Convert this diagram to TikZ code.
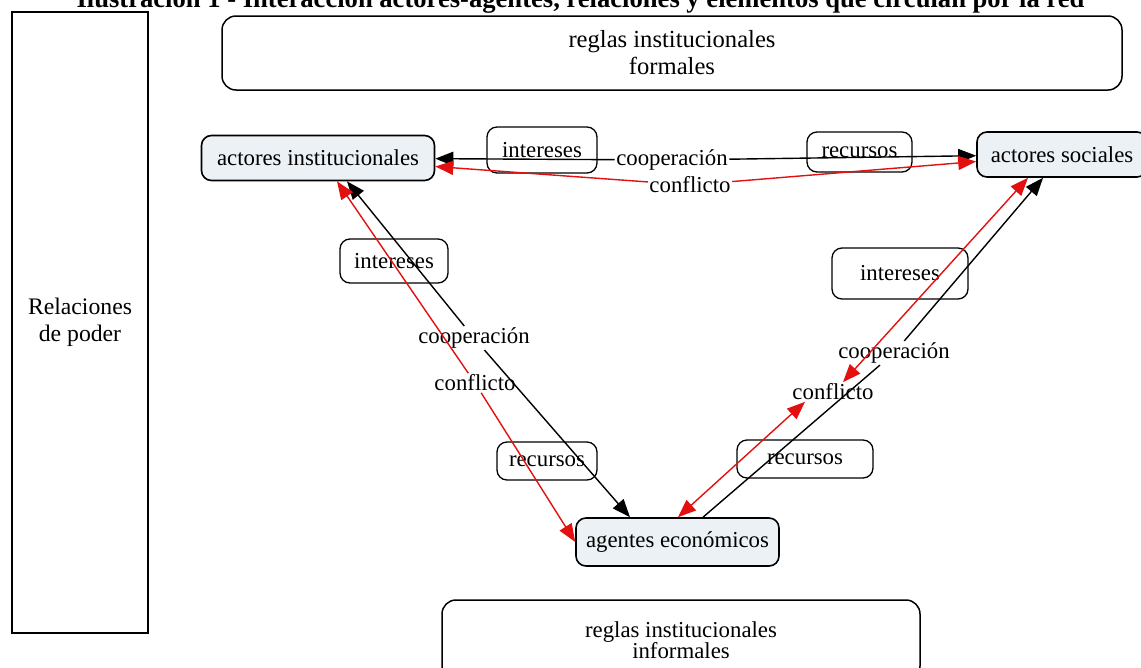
\documentclass[tikz,border=0pt]{standalone}
\usepackage{fontspec}
\setmainfont{Liberation Serif}
\usetikzlibrary{arrows.meta}
\definecolor{conceptfill}{HTML}{EBF1F5}
\definecolor{conflictred}{HTML}{E31010}

\begin{document}
\begin{tikzpicture}[x=1pt,y=-1pt,
  every node/.style={font=\fontsize{22.8}{27}\selectfont},
  frame/.style={draw, line width=1.5pt, inner sep=0pt, align=center, font=\fontsize{23.7}{27}\selectfont},
  rulebox/.style={draw, line width=1.5pt, rounded corners=14pt, inner sep=0pt, align=center},
  concept/.style={draw, line width=1.6pt, rounded corners=10pt, fill=conceptfill, inner sep=0pt},
  elembox/.style={draw, line width=1.3pt, rounded corners=10pt, inner sep=0pt},
  linkword/.style={inner sep=1.5pt},
  coopline/.style={draw=black, line width=1.4pt},
  conflline/.style={draw=conflictred, line width=1.4pt},
  headend/.style={-{Triangle[length=18pt,width=14pt]}},
  headboth/.style={{Triangle[length=18pt,width=14pt]}-{Triangle[length=18pt,width=14pt]}}
]
\useasboundingbox (0,0) rectangle (1141,667);

% caption
\node[font=\bfseries\fontsize{26.6}{30}\selectfont, anchor=base, inner sep=0pt] (title) at (580.5,7)
  {Ilustración 1 - Interacción actores-agentes, relaciones y elementos que circulan por la red};

% framing boxes
\node[frame, minimum width=136, minimum height=621] (poder) at (80,322.5) {Relaciones\\de poder};
\node[rulebox, minimum width=900, minimum height=74, font=\fontsize{24.6}{27}\selectfont] (formales) at (672,53) {reglas institucionales\\formales};
\node[rulebox, minimum width=478, minimum height=80, font=\fontsize{22.8}{21}\selectfont] (informales) at (681,640) {reglas institucionales\\informales};

% concepts
\node[concept, minimum width=233, minimum height=45] (inst) at (318,158) {actores institucionales};
\node[concept, minimum width=170, minimum height=45] (soc) at (1062,154.5) {actores sociales};
\node[concept, minimum width=203, minimum height=48] (agentes) at (677.5,542) {agentes económicos};

% circulating elements
\node[elembox, minimum width=110, minimum height=46] (intT) at (542,150) {intereses};
\node[elembox, minimum width=105, minimum height=40] (recT) at (859.5,152) {recursos};
\node[elembox, minimum width=108, minimum height=44] (intL) at (394,261) {intereses};
\node[elembox, minimum width=136, minimum height=51] (intR) at (900,273.5) {intereses};
\node[elembox, minimum width=100, minimum height=38] (recL) at (547,461) {recursos};
\node[elembox, minimum width=136, minimum height=38] (recR) at (805,459) {recursos};

% linking words
\node[linkword] (coopT) at (672,160) {cooperación};
\node[linkword] (conflT) at (690,185) {conflicto};
\node[linkword] (coopL) at (474,338) {cooperación};
\node[linkword] (conflL) at (475,383) {conflicto};
\node[linkword] (coopR) at (894,353) {cooperación};
\node[linkword] (conflR) at (833,392) {conflicto};

% top relation
\draw[coopline, headend] (coopT) -- (inst);
\draw[coopline, headend] (coopT) -- (soc);
\draw[conflline, headend] (conflT) -- (inst);
\draw[conflline, headend] (conflT) -- (soc);

% left relation
\draw[coopline, headend] (coopL) -- ([xshift=29pt]inst.south);
\draw[coopline, headend] (coopL) -- ([xshift=-47.5pt]agentes.north);
\draw[conflline, headend] (conflL) -- ([xshift=19pt]inst.south);
\draw[conflline, headend] (conflL) -- (agentes.west);

% right relation
\draw[coopline] ([xshift=25.5pt]agentes.north) -- (coopR);
\draw[coopline, headend] (coopR) -- ([xshift=-19pt]soc.south);
\draw[conflline, headboth] ([xshift=10pt]conflR.north) -- ([xshift=-34pt]soc.south);
\draw[conflline, headboth] ([xshift=0.5pt]agentes.north) -- ([xshift=-28pt]conflR.south);
\end{tikzpicture}
\end{document}
